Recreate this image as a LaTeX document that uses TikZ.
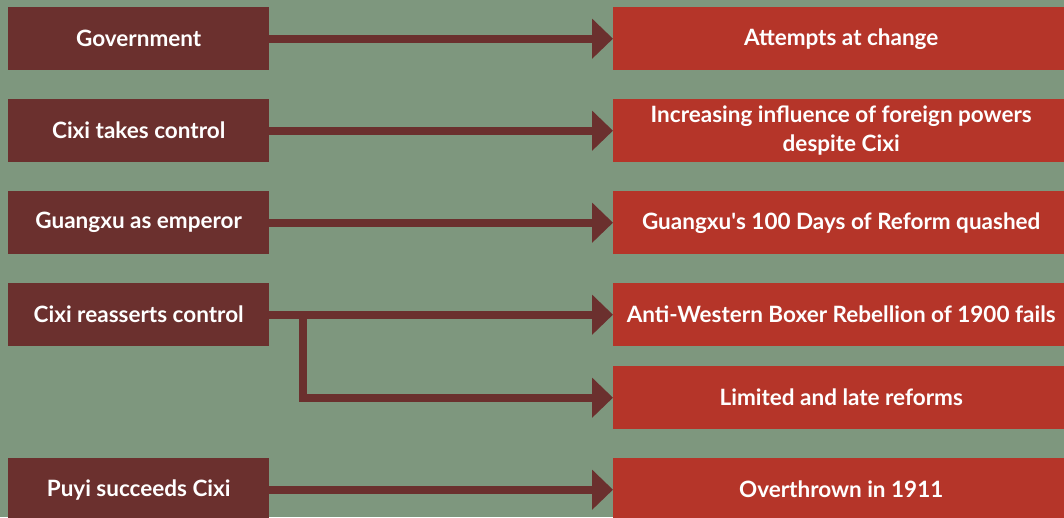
\documentclass[tikz,border=0pt]{standalone}
\usepackage{fontspec}
\setmainfont{Lato}
\usetikzlibrary{arrows.meta}
\definecolor{bg}{RGB}{126,151,126}
\definecolor{leftc}{RGB}{107,48,46}
\definecolor{rightc}{RGB}{181,53,41}
\tikzset{
  lbox/.style={fill=leftc, text=white, anchor=north west, minimum width=261pt, minimum height=63pt, inner sep=0pt, font=\fontsize{22.5}{29}\selectfont\bfseries, align=center},
  rbox/.style={fill=rightc, text=white, anchor=north west, minimum width=456pt, minimum height=63pt, inner sep=0pt, font=\fontsize{22.5}{29}\selectfont\bfseries, align=center},
  conn/.style={draw=leftc, line width=8pt, -{Triangle[length=21pt,width=39pt]}}
}
\begin{document}
\begin{tikzpicture}[x=1pt,y=-1pt]
\useasboundingbox (0,0) rectangle (1064,517);
\fill[bg] (0,0) rectangle (1064,517);
\begin{scope}
\clip (0,0) rectangle (1064,517);
\node[lbox] (l1) at (8,7) {Government};
\node[lbox] (l2) at (8,99) {Cixi takes control};
\node[lbox] (l3) at (8,191) {Guangxu as emperor};
\node[lbox] (l4) at (8,283) {Cixi reasserts control};
\node[lbox] (l5) at (8,458) {Puyi succeeds Cixi};
\node[rbox] (r1) at (613,7) {Attempts at change};
\node[rbox] (r2) at (613,99) {Increasing influence of foreign powers\\despite Cixi};
\node[rbox] (r3) at (613,191) {Guangxu\textquotesingle s 100 Days of Reform quashed};
\node[rbox] (r4) at (613,283) {Anti-Western Boxer Rebellion of 1900 fails};
\node[rbox] (r4b) at (613,366) {Limited and late reforms};
\node[rbox] (r5) at (613,458) {Overthrown in 1911};
\coordinate (br) at (303,314.5);
\draw[conn] (l1.east) -- (r1.west);
\draw[conn] (l2.east) -- (r2.west);
\draw[conn] (l3.east) -- (r3.west);
\draw[conn] (l4.east) -- (r4.west);
\draw[conn, line join=miter] ([yshift=-4pt]br) |- (r4b.west);
\draw[conn] (l5.east) -- (r5.west);
\end{scope}
\end{tikzpicture}
\end{document}
